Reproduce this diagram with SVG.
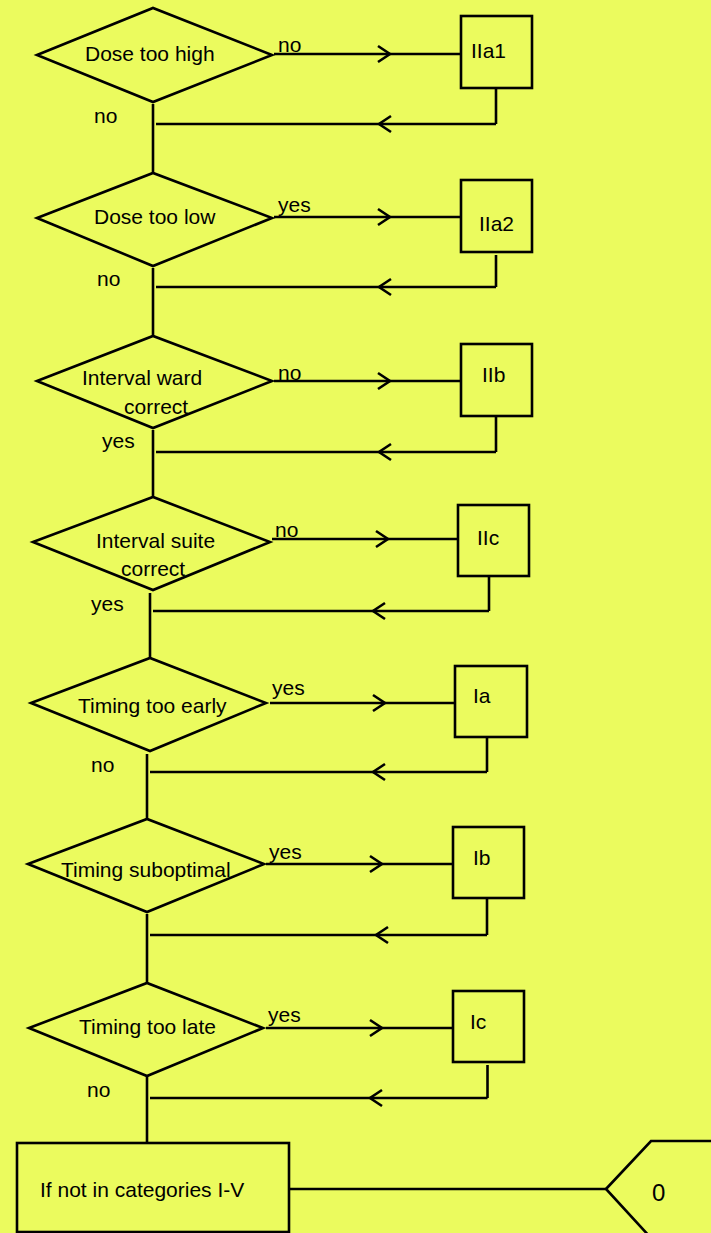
<svg xmlns="http://www.w3.org/2000/svg" width="711" height="1233" viewBox="0 0 711 1233">
<defs>
<style>
.s{fill:none;stroke:#000;stroke-width:2.6}
.n{fill:none;stroke:#000;stroke-width:2.6}
.t{font-family:"Liberation Sans",Arial,sans-serif;font-size:21px;fill:#000}
.l{font-family:"Liberation Sans",Arial,sans-serif;font-size:21px;fill:#000}
.c{fill:none;stroke:#000;stroke-width:2.6;marker-mid:url(#chev)}
</style>
<marker id="chev" markerUnits="userSpaceOnUse" viewBox="-14 -10 16 20" markerWidth="16" markerHeight="20" refX="0" refY="0" orient="auto" overflow="visible">
<path d="M-12,-8 L0,0 L-12,8" fill="none" stroke="#000" stroke-width="2.6"/>
</marker>
</defs>
<rect x="0" y="0" width="711" height="1233" fill="#EBFB5E"/>

<g id="connectors">
<path class="c" d="M274,54 H390 H461"/>
<path class="n" d="M496,88 V124"/><path class="c" d="M496,124 H379 H156"/>
<path class="n" d="M153,104 V173"/>

<path class="c" d="M274,217 H390 H461"/>
<path class="n" d="M496,255 V287"/><path class="c" d="M496,287 H379 H156"/>
<path class="n" d="M153,268 V336"/>

<path class="c" d="M274,381 H390 H461"/>
<path class="n" d="M496,416 V452"/><path class="c" d="M496,452 H379 H156"/>
<path class="n" d="M153,430 V497"/>

<path class="c" d="M272,539 H388 H458"/>
<path class="n" d="M489,576 V611"/><path class="c" d="M489,611 H373 H153"/>
<path class="n" d="M150,593 V658"/>

<path class="c" d="M270,703 H385 H455"/>
<path class="n" d="M487,737 V772"/><path class="c" d="M487,772 H373 H150"/>
<path class="n" d="M147,754 V819"/>

<path class="c" d="M266,864 H382 H453"/>
<path class="n" d="M487,898 V935"/><path class="c" d="M487,935 H376 H150"/>
<path class="n" d="M147,914 V983"/>

<path class="c" d="M266,1028 H382 H453"/>
<path class="n" d="M487.5,1065 V1098"/><path class="c" d="M487.5,1098 H370 H150"/>
<path class="n" d="M147,1076 V1143"/>

<path class="n" d="M289,1189 H606"/>
</g>

<g id="d1"><polygon class="s" points="37,55 153,8 272,55 153,102"/><text class="t" x="85" y="61">Dose too high</text></g>
<g id="d2"><polygon class="s" points="37,218 153,173 272,218 153,266"/><text class="t" x="94" y="224">Dose too low</text></g>
<g id="d3"><polygon class="s" points="37,381 153,336 272,381 153,428"/><text class="t" x="82" y="385">Interval ward</text><text class="t" x="124" y="414">correct</text></g>
<g id="d4"><polygon class="s" points="33,542 153,497 270,542 153,590"/><text class="t" x="96" y="548">Interval suite</text><text class="t" x="121" y="576">correct</text></g>
<g id="d5"><polygon class="s" points="31,703 150,658 266,703 150,751"/><text class="t" x="78" y="713">Timing too early</text></g>
<g id="d6"><polygon class="s" points="28,864 147,819 264,864 147,912"/><text class="t" x="61" y="877">Timing suboptimal</text></g>
<g id="d7"><polygon class="s" points="29,1028 147,983 263,1028 147,1076"/><text class="t" x="79" y="1034">Timing too late</text></g>

<g id="bIIa1"><rect class="s" x="461" y="16" width="71" height="72"/><text class="t" x="471" y="58">IIa1</text></g>
<g id="bIIa2"><rect class="s" x="461" y="180" width="71" height="72"/><text class="t" x="479" y="231">IIa2</text></g>
<g id="bIIb"><rect class="s" x="461" y="344" width="71" height="72"/><text class="t" x="482" y="382">IIb</text></g>
<g id="bIIc"><rect class="s" x="458" y="505" width="71" height="71"/><text class="t" x="477" y="545">IIc</text></g>
<g id="bIa"><rect class="s" x="455" y="666" width="72" height="71"/><text class="t" x="473" y="703">Ia</text></g>
<g id="bIb"><rect class="s" x="453" y="827" width="71" height="71"/><text class="t" x="473" y="865">Ib</text></g>
<g id="bIc"><rect class="s" x="453" y="991" width="71" height="71"/><text class="t" x="470" y="1029">Ic</text></g>

<g id="final"><rect class="s" x="17" y="1143" width="272" height="89"/><text class="t" x="40" y="1197">If not in categories I-V</text></g>
<g id="offpage"><polygon class="s" points="606,1189 651,1141 716,1141 716,1238 651,1238"/><text class="t" x="652" y="1201" style="font-size:24px">0</text></g>

<g id="labels">
<text class="l" x="278" y="52">no</text>
<text class="l" x="94" y="123">no</text>
<text class="l" x="278" y="212">yes</text>
<text class="l" x="97" y="286">no</text>
<text class="l" x="278" y="380">no</text>
<text class="l" x="102" y="448">yes</text>
<text class="l" x="275" y="537">no</text>
<text class="l" x="91" y="611">yes</text>
<text class="l" x="272" y="695">yes</text>
<text class="l" x="91" y="772">no</text>
<text class="l" x="269" y="859">yes</text>
<text class="l" x="268" y="1022">yes</text>
<text class="l" x="87" y="1097">no</text>
</g>
</svg>
